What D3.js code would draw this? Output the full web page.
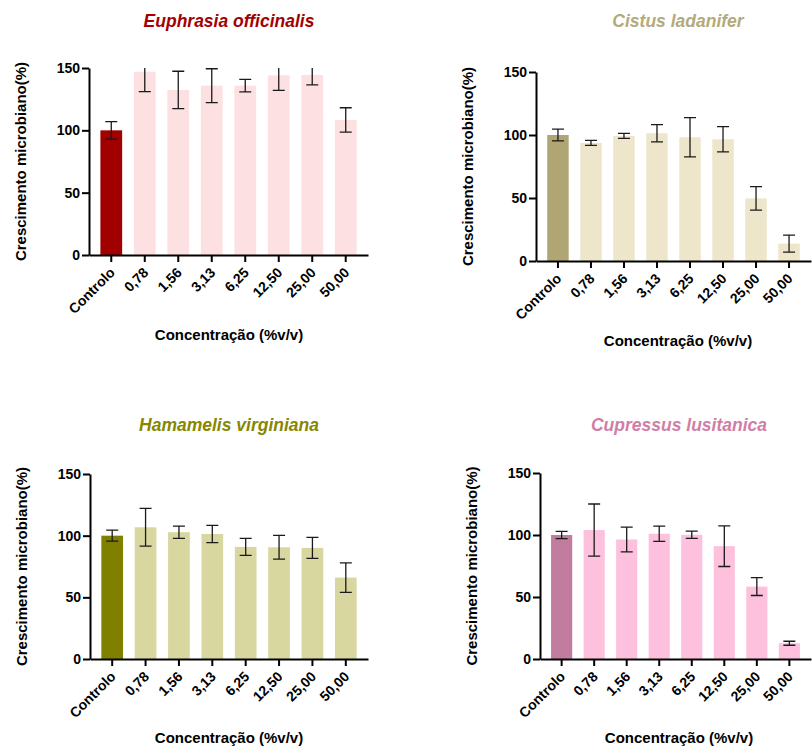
<!DOCTYPE html>
<html>
<head>
<meta charset="utf-8">
<script src="https://cdn.jsdelivr.net/npm/d3@7"></script>
<style>
    body { margin: 0; background: #fff; }
    svg { font-family: "Liberation Sans", Arial, sans-serif; }
    .chart__axis path, .chart__axis line { stroke: #000; stroke-width: 2px; }
    .chart__axis text { font-size: 14px; font-weight: bold; fill: #000; }
    .chart__title { font-size: 17.5px; font-weight: bold; font-style: italic; }
    .chart__axis-title { font-size: 15px; font-weight: bold; fill: #000; }
    .chart__error { stroke: #1a1a1a; stroke-width: 1.3px; fill: none; }
</style>
</head>
<body>
<svg width="812" height="747"></svg>
<script>
var categories = ['Controlo', '0,78', '1,56', '3,13', '6,25', '12,50', '25,00', '50,00'];
var yTicks = [0, 50, 100, 150];

var euphrasiaMean = [100, 147, 132.4, 135.8, 135.8, 144.1, 144.4, 108.3];
var euphrasiaError = [7, 16, 15, 13.6, 5, 12, 8, 9.8];

var cistusMean = [100, 93.7, 99.3, 101.4, 98.2, 96.6, 49.7, 13.8];
var cistusError = [4.6, 2, 2, 6.8, 15.6, 10, 9.3, 6.7];

var hamamelisMean = [100, 106.8, 102.8, 101.4, 90.9, 90.6, 90.1, 66];
var hamamelisError = [4.5, 15.3, 5, 7, 6.9, 9.7, 8.5, 12];

var cupressusMean = [100, 104, 96.4, 101, 100.2, 91, 58.4, 12.7];
var cupressusError = [3, 21, 10, 6.2, 3, 16.4, 7.2, 1.6];

(function() {
    var svg = d3.select('svg');

    var drawPanel = function(id, title, means, errors, options) {
        var x = d3.scaleBand()
            .domain(categories)
            .range([options.left, options.right])
            .paddingInner(0.35)
            .paddingOuter(0.34);

        var y = d3.scaleLinear()
            .domain([0, 150])
            .range([options.bottom, options.top]);

        var chart = svg.append('g').classed('chart__' + id, true);

        chart.append('clipPath')
            .attr('id', 'clip-' + id)
            .append('rect')
            .attr('x', options.left)
            .attr('y', y(150))
            .attr('width', options.right - options.left)
            .attr('height', y(0) - y(150));

        chart.selectAll('.chart__bar')
            .data(means)
            .enter()
            .append('rect')
            .classed('chart__bar', true)
            .attr('x', function(d, i) { return x(categories[i]); })
            .attr('y', function(d) { return y(d); })
            .attr('width', x.bandwidth())
            .attr('height', function(d) { return y(0) - y(d); })
            .attr('fill', function(d, i) { return i == 0 ? options.dark : options.light; });

        var errorGroup = chart.append('g').attr('clip-path', 'url(#clip-' + id + ')');
        var cap = 6;

        means.forEach(function(m, i) {
            var cx = x(categories[i]) + x.bandwidth() / 2;
            var top = y(m + errors[i]);
            var low = y(m - errors[i]);
            errorGroup.append('path')
                .classed('chart__error', true)
                .attr('d', 'M' + cx + ',' + top + 'V' + low +
                    'M' + (cx - cap) + ',' + top + 'H' + (cx + cap) +
                    'M' + (cx - cap) + ',' + low + 'H' + (cx + cap));
        });

        var xAxis = chart.append('g')
            .classed('chart__axis', true)
            .attr('transform', 'translate(0, ' + y(0) + ')')
            .call(d3.axisBottom(x).tickSize(7).tickSizeOuter(0));

        xAxis.selectAll('text')
            .attr('text-anchor', 'end')
            .attr('x', 0)
            .attr('y', 0)
            .attr('dy', '0.35em')
            .attr('transform', 'translate(1, 15) rotate(-45)');

        chart.append('g')
            .classed('chart__axis', true)
            .attr('transform', 'translate(' + options.left + ', 0)')
            .call(d3.axisLeft(y).tickValues(yTicks).tickSize(7).tickSizeOuter(0).tickPadding(2));

        chart.append('text')
            .classed('chart__title', true)
            .attr('text-anchor', 'middle')
            .attr('x', options.titleX)
            .attr('y', options.titleY)
            .attr('fill', options.titleColor)
            .text(title);

        chart.append('text')
            .classed('chart__axis-title', true)
            .attr('text-anchor', 'middle')
            .attr('transform', 'translate(' + options.yTitleX + ', ' + ((options.top + options.bottom) / 2) + ') rotate(-90)')
            .text('Crescimento microbiano(%)');

        chart.append('text')
            .classed('chart__axis-title', true)
            .attr('text-anchor', 'middle')
            .attr('x', options.titleX)
            .attr('y', options.xTitleY)
            .text('Concentração (%v/v)');
    };

    drawPanel('euphrasia', 'Euphrasia officinalis', euphrasiaMean, euphrasiaError, {
        left: 89, right: 368, top: 68, bottom: 255,
        titleX: 229, titleY: 27, yTitleX: 26, xTitleY: 340,
        dark: '#a00000', light: '#fde0e1', titleColor: '#a30000'
    });

    drawPanel('cistus', 'Cistus ladanifer', cistusMean, cistusError, {
        left: 536, right: 811, top: 72, bottom: 261,
        titleX: 678, titleY: 27, yTitleX: 473, xTitleY: 346,
        dark: '#b0a673', light: '#ede6cb', titleColor: '#b5aa7a'
    });

    drawPanel('hamamelis', 'Hamamelis virginiana', hamamelisMean, hamamelisError, {
        left: 90, right: 368, top: 474, bottom: 659,
        titleX: 229, titleY: 431, yTitleX: 27, xTitleY: 743,
        dark: '#808000', light: '#d8d79f', titleColor: '#878700'
    });

    drawPanel('cupressus', 'Cupressus lusitanica', cupressusMean, cupressusError, {
        left: 540, right: 811, top: 473, bottom: 659,
        titleX: 679, titleY: 431, yTitleX: 477, xTitleY: 743,
        dark: '#c27c9e', light: '#fdc0dd', titleColor: '#d07ea5'
    });
})();
</script>
</body>
</html>
